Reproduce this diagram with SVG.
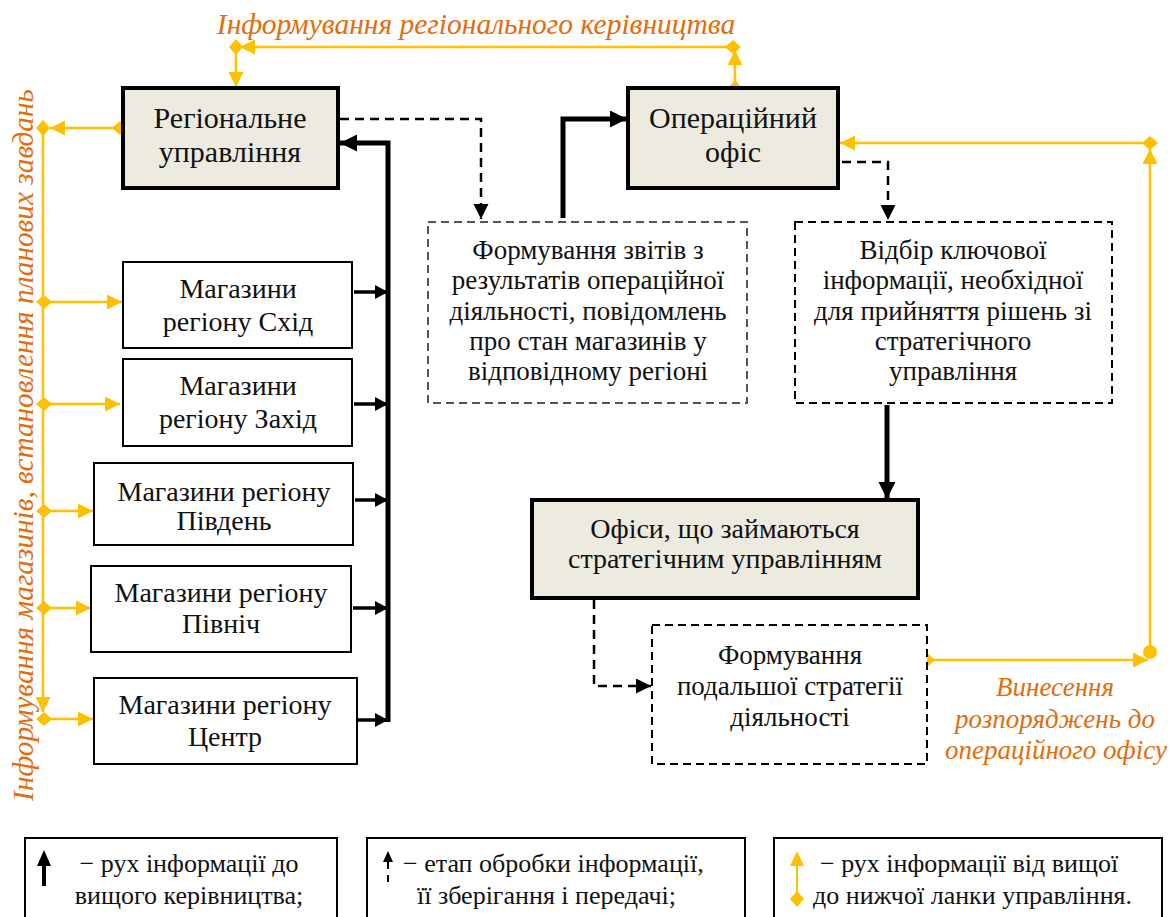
<svg xmlns="http://www.w3.org/2000/svg" width="1171" height="917" viewBox="0 0 1171 917">
  <style>
    .main { fill: #EDEBE0; stroke: #000; stroke-width: 4; }
    .store { fill: #fff; stroke: #000; stroke-width: 2; }
    .proc { fill: #fff; stroke: #000; stroke-width: 2; stroke-dasharray: 8 5; }
    .proc-g { fill: #fff; stroke: #555; stroke-width: 2; stroke-dasharray: 8 5; }
    .up { fill: none; stroke: #000; stroke-width: 5; }
    .up-s { fill: none; stroke: #000; stroke-width: 3.5; }
    .dash { fill: none; stroke: #000; stroke-width: 2.5; stroke-dasharray: 9 6; }
    .down { fill: none; stroke: #FFC000; stroke-width: 2.5; }
    .legend { fill: #fff; stroke: #000; stroke-width: 2; }
  </style>
  <defs>
    <marker id="ahThick" markerUnits="userSpaceOnUse" markerWidth="18" markerHeight="18" refX="17" refY="8.5" orient="auto">
      <path d="M0,0 L17,8.5 L0,17 Z" fill="#000"/>
    </marker>
    <marker id="ahSmall" markerUnits="userSpaceOnUse" markerWidth="14" markerHeight="15" refX="13" refY="7" orient="auto">
      <path d="M0,0 L13,7 L0,14 Z" fill="#000"/>
    </marker>
    <marker id="ahDash" markerUnits="userSpaceOnUse" markerWidth="16" markerHeight="16" refX="15" refY="7.5" orient="auto">
      <path d="M0,0 L15,7.5 L0,15 Z" fill="#000"/>
    </marker>
    <marker id="ahY" markerUnits="userSpaceOnUse" markerWidth="16" markerHeight="16" refX="15" refY="7.5" orient="auto">
      <path d="M0,0 L15,7.5 L0,15 Z" fill="#FFC000"/>
    </marker>
    <marker id="dmY" markerUnits="userSpaceOnUse" markerWidth="18" markerHeight="16" refX="8" refY="7" orient="auto">
      <path d="M0,7 L8,0 L16,7 L8,14 Z" fill="#FFC000"/>
    </marker>
    <marker id="ovY" markerUnits="userSpaceOnUse" markerWidth="16" markerHeight="16" refX="7.5" refY="7.5" orient="auto">
      <circle cx="7.5" cy="7.5" r="7" fill="#FFC000"/>
    </marker>
  </defs>

  <!-- labels of the information flows -->
  <g font-family="Liberation Serif" font-style="italic" fill="#E46C0A" text-anchor="middle">
    <text x="476" y="34" font-size="29.5">Інформування регіонального керівництва</text>
    <text transform="translate(33,445) rotate(-90)" x="0" y="0" font-size="29.3">Інформування магазинів, встановлення планових завдань</text>
    <text x="1055" y="696" font-size="27">Винесення</text>
    <text x="1055" y="728" font-size="27">розпоряджень до</text>
    <text x="1056" y="759" font-size="27">операційного офісу</text>
  </g>

  <!-- connectors -->
  <g id="connectors">
    <!-- reporting upward -->
    <path class="up" d="M388,722 V143 H340" marker-end="url(#ahThick)"/>
    <path class="up-s" d="M354,292 H388" marker-end="url(#ahSmall)"/>
    <path class="up-s" d="M354,404 H388" marker-end="url(#ahSmall)"/>
    <path class="up-s" d="M355,500 H388" marker-end="url(#ahSmall)"/>
    <path class="up-s" d="M353,608 H388" marker-end="url(#ahSmall)"/>
    <path class="up-s" d="M358,720 H388" marker-end="url(#ahSmall)"/>
    <path class="up" d="M563,218 V119 H627" marker-end="url(#ahThick)"/>
    <path class="up" d="M887,405 V499" marker-end="url(#ahThick)"/>

    <!-- processing steps -->
    <path class="dash" d="M340,119 H481 V219" marker-end="url(#ahDash)"/>
    <path class="dash" d="M842,162 H888 V220" marker-end="url(#ahDash)"/>
    <path class="dash" d="M594,600 V686 H651" marker-end="url(#ahDash)"/>

    <!-- top-down informing -->
    <path class="down" d="M735,88 V50" marker-start="url(#dmY)" marker-end="url(#ahY)"/>
    <path class="down" d="M733,47 H240" marker-start="url(#dmY)" marker-end="url(#ahY)"/>
    <path class="down" d="M236,47 V87" marker-start="url(#dmY)" marker-end="url(#ahY)"/>

    <path class="down" d="M120,128 H50" marker-start="url(#dmY)" marker-end="url(#ahY)"/>
    <path class="down" d="M43,128 V712" marker-start="url(#dmY)" marker-end="url(#ahY)"/>
    <path class="down" d="M44,302 H122" marker-start="url(#dmY)" marker-end="url(#ahY)"/>
    <path class="down" d="M44,404 H120" marker-start="url(#dmY)" marker-end="url(#ahY)"/>
    <path class="down" d="M44,511 H93" marker-start="url(#dmY)" marker-end="url(#ahY)"/>
    <path class="down" d="M44,608 H91" marker-start="url(#dmY)" marker-end="url(#ahY)"/>
    <path class="down" d="M44,719 H93" marker-start="url(#dmY)" marker-end="url(#ahY)"/>

    <path class="down" d="M927,660 H1148" marker-start="url(#dmY)" marker-end="url(#ahY)"/>
    <path class="down" d="M1150,652 V149" marker-start="url(#ovY)" marker-end="url(#ahY)"/>
    <path class="down" d="M1150,143 H840" marker-start="url(#dmY)" marker-end="url(#ahY)"/>
  </g>

  <g font-family="Liberation Serif" fill="#111" text-anchor="middle">
    <!-- management units -->
    <g id="regional" font-size="30">
      <rect class="main" x="123" y="88" width="215" height="100"/>
      <text x="230" y="128">Регіональне</text>
      <text x="230" y="162">управління</text>
    </g>
    <g id="operational" font-size="30">
      <rect class="main" x="628" y="88" width="210" height="100"/>
      <text x="733" y="128">Операційний</text>
      <text x="733" y="162">офіс</text>
    </g>
    <g id="strategic" font-size="28">
      <rect class="main" x="532" y="500" width="386" height="98"/>
      <text x="725" y="538">Офіси, що займаються</text>
      <text x="725" y="568">стратегічним управлінням</text>
    </g>

    <!-- stores -->
    <g id="store-east" font-size="28">
      <rect class="store" x="123" y="262" width="229" height="86"/>
      <text x="238" y="298">Магазини</text>
      <text x="238" y="331">регіону Схід</text>
    </g>
    <g id="store-west" font-size="28">
      <rect class="store" x="123" y="359" width="229" height="87"/>
      <text x="238" y="395">Магазини</text>
      <text x="238" y="428">регіону Захід</text>
    </g>
    <g id="store-south" font-size="28">
      <rect class="store" x="94" y="463" width="259" height="82"/>
      <text x="224" y="501">Магазини регіону</text>
      <text x="224" y="530">Південь</text>
    </g>
    <g id="store-north" font-size="28">
      <rect class="store" x="91" y="566" width="260" height="86"/>
      <text x="221" y="602">Магазини регіону</text>
      <text x="221" y="633">Північ</text>
    </g>
    <g id="store-centre" font-size="28">
      <rect class="store" x="94" y="678" width="263" height="86"/>
      <text x="225" y="714">Магазини регіону</text>
      <text x="225" y="746">Центр</text>
    </g>

    <!-- processing steps -->
    <g id="reports" font-size="27">
      <rect class="proc-g" x="428" y="222" width="319" height="181"/>
      <text x="588" y="259">Формування звітів з</text>
      <text x="588" y="289">результатів операційної</text>
      <text x="588" y="320">діяльності, повідомлень</text>
      <text x="588" y="350">про стан магазинів у</text>
      <text x="588" y="380">відповідному регіоні</text>
    </g>
    <g id="selection" font-size="27">
      <rect class="proc" x="795" y="222" width="317" height="181"/>
      <text x="953" y="259">Відбір ключової</text>
      <text x="953" y="289">інформації, необхідної</text>
      <text x="953" y="320">для прийняття рішень зі</text>
      <text x="953" y="350">стратегічного</text>
      <text x="953" y="380">управління</text>
    </g>
    <g id="strategy" font-size="27">
      <rect class="proc" x="652" y="625" width="275" height="139"/>
      <text x="790" y="664">Формування</text>
      <text x="790" y="695">подальшої стратегії</text>
      <text x="790" y="726">діяльності</text>
    </g>
  </g>

  <!-- legend -->
  <g font-family="Liberation Serif" fill="#111" font-size="26">
    <g id="legend-up">
      <rect class="legend" x="25" y="838" width="312" height="100"/>
      <path d="M44,886 V864" stroke="#000" stroke-width="4" fill="none"/>
      <path d="M37,866 L44,850 L51,866 Z" fill="#000"/>
      <text x="189" y="872" text-anchor="middle">− рух інформації до</text>
      <text x="189" y="904" text-anchor="middle">вищого керівництва;</text>
    </g>
    <g id="legend-proc">
      <rect class="legend" x="367" y="838" width="378" height="100"/>
      <path d="M388,862 V886" stroke="#000" stroke-width="2" stroke-dasharray="7 6" fill="none"/>
      <path d="M383,862 L388,851 L393,862 Z" fill="#000"/>
      <text x="403" y="872">− етап обробки інформації,</text>
      <text x="417" y="904">її зберігання і передачі;</text>
    </g>
    <g id="legend-down">
      <rect class="legend" x="774" y="838" width="388" height="100"/>
      <path d="M797,862 V896" stroke="#FFC000" stroke-width="2" fill="none"/>
      <path d="M790,866 L797,851 L804,866 Z" fill="#FFC000"/>
      <path d="M797,891 L804,899 L797,907 L790,899 Z" fill="#FFC000"/>
      <text x="820" y="872">− рух інформації від вищої</text>
      <text x="813" y="904">до нижчої ланки управління.</text>
    </g>
  </g>
</svg>
